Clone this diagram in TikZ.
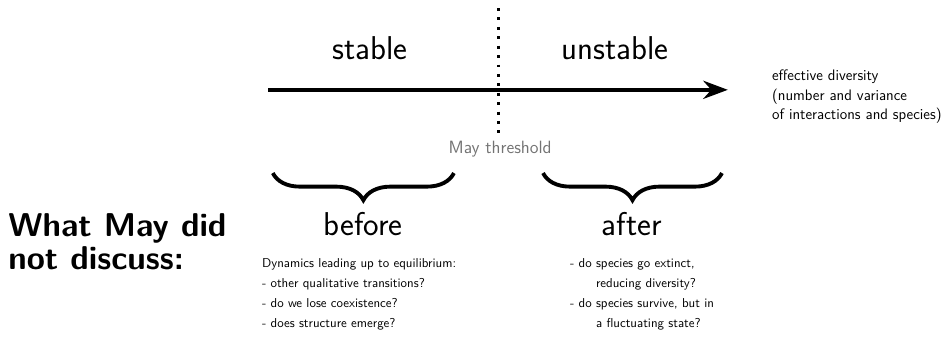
\documentclass[tikz,border=0pt]{standalone}
\usepackage{tikz}
\usetikzlibrary{decorations.pathreplacing}
\usetikzlibrary{positioning}
\usetikzlibrary{arrows.meta}

\begin{document}
\begin{tikzpicture}
    [
    big/.style = {font=\sffamily\fontsize{25.6}{30}\selectfont, anchor=base, inner sep=0pt},
    small/.style = {font=\sffamily\fontsize{10}{15.5}\selectfont, align=left, anchor=north west, inner sep=0pt},
    curly/.style = {decorate, decoration={brace, mirror, amplitude=0.74cm}, line width=3pt}
    ]
\useasboundingbox (0,0) rectangle (25.8,9.19);

% axis and threshold
\coordinate (axstart) at (7.31,6.74);
\coordinate (axend) at (19.85,6.74);
\coordinate (thtop) at (13.60,8.97);
\coordinate (thbot) at (13.60,5.56);
\draw[line width=3.5pt, -{Stealth[length=19pt,width=14pt]}] (axstart) -- (axend);
\draw[line width=2.3pt, dash pattern=on 2.3pt off 5pt] (thtop) -- (thbot);

\node[big] (stable) at (10.09,7.58) {stable};
\node[big] (unstable) at (16.77,7.58) {unstable};
\node[anchor=base, inner sep=0pt, font=\sffamily\fontsize{13.8}{16}\selectfont, text=black!55] (thresh) at (13.64,4.99) {May threshold};
\node[small, font=\sffamily\fontsize{11.8}{15}\selectfont] (axlabel) at (21.05,7.28)
    {effective diversity\\(number and variance\\of interactions and species)};

% braces
\coordinate (bl1) at (7.44,4.47);
\coordinate (bl2) at (12.38,4.47);
\coordinate (br1) at (14.81,4.47);
\coordinate (br2) at (19.69,4.47);
\draw[curly] (bl1) -- (bl2);
\draw[curly] (br1) -- (br2);

\node[big] (before) at (9.90,2.78) {before};
\node[big] (after) at (17.23,2.78) {after};

\node[anchor=north west, inner sep=0pt, align=left, font=\sffamily\bfseries\fontsize{25.6}{25.6}\selectfont] (question) at (0.22,3.38)
    {What May did\\not discuss:};

\node[small] (beforetext) at (7.14,2.15)
    {Dynamics leading up to equilibrium:\\
     - other qualitative transitions?\\
     - do we lose coexistence?\\
     - does structure emerge?};
\node[small] (aftertext) at (15.54,2.15)
    {- do species go extinct,\\
     \hphantom{- do }reducing diversity?\\
     - do species survive, but in\\
     \hphantom{- do }a fluctuating state?};
\end{tikzpicture}
\end{document}
